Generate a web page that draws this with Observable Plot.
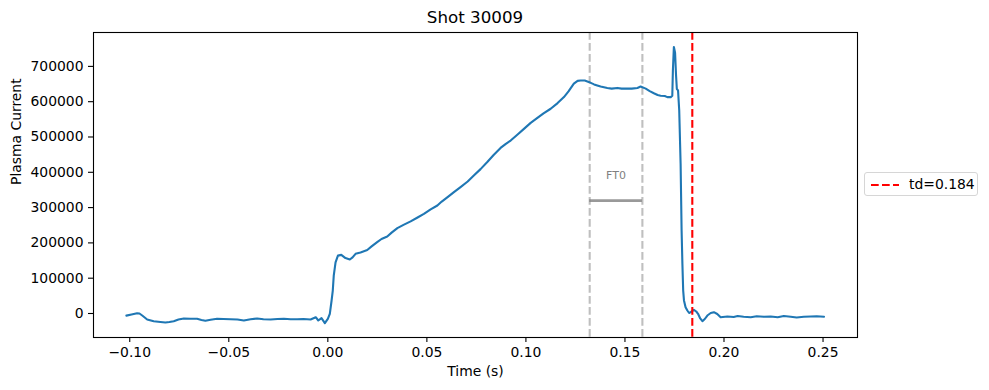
<!DOCTYPE html>
<html>
<head>
<meta charset="utf-8">
<script src="https://cdn.jsdelivr.net/npm/d3@7"></script>
<script src="https://cdn.jsdelivr.net/npm/@observablehq/plot@0.6"></script>
<style>
  body { margin: 0; background: #fff; font-family: "DejaVu Sans", sans-serif; }
  #wrap { position: relative; width: 989px; height: 390px; overflow: hidden; }
  #title { position: absolute; left: 93px; width: 764px; top: 7px; text-align: center; font-size: 16.7px; color: #000; }
  #legend { position: absolute; left: 864px; top: 172px; width: 114px; height: 24px; border: 1px solid #d6d6d6; border-radius: 3px; background: rgba(255,255,255,0.8); box-sizing: border-box; }
  #legend svg { position: absolute; left: 6px; top: 10px; }
  #legend span { position: absolute; left: 44px; top: 3px; font-size: 13.9px; color: #000; white-space: nowrap; }
</style>
</head>
<body>
<div id="wrap">
  <div id="chart"></div>
  <div id="title">Shot 30009</div>
  <div id="legend"><svg width="30" height="4"><line x1="0" y1="2" x2="28" y2="2" stroke="red" stroke-width="2.1" stroke-dasharray="7.7,3.3"/></svg><span>td=0.184</span></div>
</div>
<script>
// ---- data ----
const time = [
  -0.1017,-0.0991,-0.0963,-0.0951,-0.0937,-0.0912,-0.0879,-0.0845,-0.0820,-0.0800,
  -0.0778,-0.0754,-0.0727,-0.0693,-0.0660,-0.0638,-0.0618,-0.0592,-0.0559,-0.0527,
  -0.0491,-0.0456,-0.0424,-0.0390,-0.0357,-0.0325,-0.0289,-0.0254,-0.0222,-0.0188,
  -0.0155,-0.0123,-0.0087,-0.0061,-0.0048,-0.0032,-0.0015,0.0000,0.0010,0.0019,
  0.0025,0.0030,0.0039,0.0051,0.0068,0.0089,0.0111,0.0125,0.0140,0.0165,
  0.0199,0.0221,0.0249,0.0271,0.0300,0.0322,0.0351,0.0382,0.0418,0.0453,
  0.0485,0.0519,0.0553,0.0575,0.0603,0.0635,0.0670,0.0706,0.0737,0.0771,
  0.0805,0.0837,0.0872,0.0897,0.0923,0.0958,0.0990,0.1024,0.1058,0.1089,
  0.1125,0.1160,0.1192,0.1215,0.1242,0.1261,0.1276,0.1297,0.1317,0.1344,
  0.1377,0.1411,0.1433,0.1462,0.1483,0.1512,0.1534,0.1563,0.1579,0.1605,
  0.1625,0.1646,0.1665,0.1680,0.1701,0.1714,0.1731,0.1739,0.1742,0.1747,
  0.1753,0.1758,0.1762,0.1768,0.1774,0.1781,0.1786,0.1790,0.1794,0.1798,
  0.1806,0.1815,0.1824,0.1832,0.1848,0.1860,0.1869,0.1880,0.1891,0.1903,
  0.1916,0.1933,0.1949,0.1966,0.1983,0.2017,0.2049,0.2069,0.2099,0.2135,
  0.2165,0.2201,0.2236,0.2271,0.2302,0.2337,0.2367,0.2403,0.2438,0.2468,
  0.2505
];
const plasmaCurrent = [
  -6000,-2800,800,0,-5700,-17000,-21800,-24000,-25500,-24000,
  -21800,-17000,-14200,-15000,-15000,-18400,-20700,-17800,-15000,-15600,
  -16100,-17000,-19800,-16400,-14200,-16400,-17000,-15600,-15000,-16400,
  -16100,-15600,-17000,-10500,-19800,-13300,-27500,-15000,-800,36800,
  65000,108000,145000,164000,166000,157000,153000,159000,169000,173000,
  180000,190000,202000,211000,218000,229000,242000,251000,261000,272000,
  282000,295000,306000,317000,329000,343000,358000,374000,391000,409000,
  429000,449000,469000,480000,490000,507000,523000,540000,554000,567000,
  580000,596000,613000,629000,651000,659000,660000,660000,656000,649000,
  643000,639000,637000,639000,637000,637000,637000,639000,643000,637000,
  630000,624000,619000,617000,616000,613000,613000,617000,688000,755000,
  739000,674000,636000,632000,575000,424000,235000,141000,65000,37000,
  18000,8500,1400,3700,10500,5700,-800,-14000,-21800,-15600,
  -5700,1400,3700,-1400,-10500,-8500,-9900,-7100,-9300,-10500,
  -7900,-9300,-8500,-10500,-7100,-9300,-11300,-9100,-8500,-7900,
  -9300
];
const ft0Window = [0.1322, 0.1588];   // FT0 start / end (s)
const ft0Level = 320000;
const ft0LabelLevel = 392000;
const ft0Label = "FT0";
const disruptionTime = 0.184;         // td
const xTicks = [-0.10, -0.05, 0.00, 0.05, 0.10, 0.15, 0.20, 0.25];
const yTicks = [0, 100000, 200000, 300000, 400000, 500000, 600000, 700000];
const xLabel = "Time (s)";
const yLabel = "Plasma Current";

// ---- build table ----
const series = time.map((t, i) => ({t, v: plasmaCurrent[i]}));

const dash = "7.7,3.3";
const chart = Plot.plot({
  width: 989,
  height: 390,
  marginLeft: 93,
  marginRight: 132,
  marginTop: 32,
  marginBottom: 53,
  style: {fontFamily: "DejaVu Sans", fontSize: "13.9px", color: "black", background: "white"},
  x: {domain: [-0.1183, 0.2674]},
  y: {domain: [-68000, 796000]},
  marks: [
    Plot.ruleX(ft0Window, {stroke: "gray", strokeOpacity: 0.5, strokeWidth: 2.1, strokeDasharray: dash}),
    Plot.ruleY([ft0Level], {x1: ft0Window[0], x2: ft0Window[1], stroke: "gray", strokeOpacity: 0.8, strokeWidth: 2.8}),
    Plot.text([ft0Label], {x: (ft0Window[0] + ft0Window[1]) / 2, y: ft0LabelLevel, text: d => d, fill: "gray", fontSize: 11}),
    Plot.line(series, {x: "t", y: "v", stroke: "#1f77b4", strokeWidth: 2.1}),
    Plot.ruleX([disruptionTime], {stroke: "red", strokeWidth: 2.1, strokeDasharray: dash}),
    Plot.frame({stroke: "black", strokeWidth: 1.1}),
    Plot.axisX(xTicks, {tickSize: 5, tickPadding: 5, tickFormat: d3.format(".2f"), label: null, stroke: "black", strokeWidth: 1.1}),
    Plot.axisY(yTicks, {tickSize: 5, tickPadding: 5, tickFormat: d => String(d), label: null, stroke: "black", strokeWidth: 1.1}),
    Plot.text([xLabel], {frameAnchor: "bottom", dy: 34, text: d => d, fontSize: 13.9, lineAnchor: "middle"}),
    Plot.text([yLabel], {frameAnchor: "left", dx: -77, rotate: -90, text: d => d, fontSize: 13.9})
  ]
});
document.getElementById("chart").appendChild(chart);
</script>
</body>
</html>
